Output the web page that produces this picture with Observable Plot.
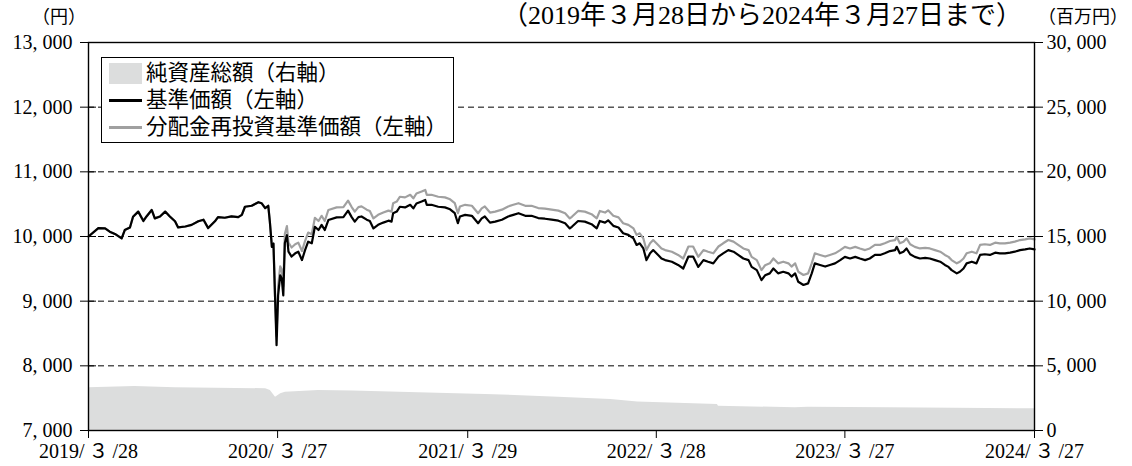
<!DOCTYPE html>
<html><head><meta charset="utf-8">
<script src="https://cdn.jsdelivr.net/npm/d3@7"></script>
<script src="https://cdn.jsdelivr.net/npm/@observablehq/plot@0.6"></script>
<style>
body{margin:0;background:#fff;}
#wrap{position:relative;width:1132px;height:466px;font-family:"Liberation Serif","Noto Sans CJK JP",serif;color:#000;overflow:hidden;}
.hdr{position:absolute;white-space:nowrap;line-height:1;}
#chart{position:absolute;left:0;top:30px;}
#legend{position:absolute;left:101px;top:57px;width:353px;height:86px;border:1.5px solid #000;background:#fff;box-sizing:border-box;font-family:"Liberation Serif","Noto Sans CJK JP",serif;font-size:21.5px;}
.row{position:absolute;left:0;height:26px;width:100%;}
.sw{position:absolute;left:7px;}
.lb{position:absolute;left:44px;top:0;line-height:26px;white-space:nowrap;}
</style>
</head><body>
<div id="wrap">
  <div class="hdr" style="left:32px;top:8px;font-size:18px;">（円）</div>
  <div class="hdr" id="title" style="right:110px;top:3px;font-size:26px;">（2019年３月28日から2024年３月27日まで）</div>
  <div class="hdr" style="left:1038px;top:8px;font-size:18px;">（百万円）</div>
  <div id="chart"></div>
  <div id="legend">
    <div class="row" style="top:2px;"><div class="sw" style="top:3px;width:33px;height:21px;background:#dcdddd;"></div><div class="lb">純資産総額（右軸）</div></div>
    <div class="row" style="top:29px;"><div class="sw" style="top:12px;width:33px;height:3px;background:#000;"></div><div class="lb">基準価額（左軸）</div></div>
    <div class="row" style="top:56px;"><div class="sw" style="top:12px;width:33px;height:3px;background:#a0a0a0;"></div><div class="lb">分配金再投資基準価額（左軸）</div></div>
  </div>
</div>
<script>
// ---- data ----
const dates = [
"2019-03-28","2019-04-16","2019-04-29","2019-05-08","2019-05-18","2019-05-31","2019-06-06","2019-06-16","2019-06-22","2019-07-02",
"2019-07-12","2019-07-18","2019-07-28","2019-08-03","2019-08-13","2019-08-23","2019-09-01","2019-09-11","2019-09-17","2019-10-01",
"2019-10-13","2019-10-26","2019-11-05","2019-11-14","2019-11-27","2019-12-03","2019-12-16","2019-12-29","2020-01-11","2020-01-18",
"2020-01-24","2020-02-06","2020-02-19","2020-02-25","2020-03-03","2020-03-09","2020-03-12","2020-03-16","2020-03-19","2020-03-22",
"2020-03-25","2020-03-28","2020-04-01","2020-04-04","2020-04-07","2020-04-10","2020-04-14","2020-04-17","2020-04-23","2020-04-30",
"2020-05-06","2020-05-13","2020-05-19","2020-05-25","2020-06-01","2020-06-07","2020-06-14","2020-06-20","2020-06-26","2020-07-03",
"2020-07-19","2020-08-01","2020-08-10","2020-08-17","2020-08-23","2020-08-30","2020-09-05","2020-09-15","2020-09-21","2020-09-28",
"2020-10-07","2020-10-17","2020-10-27","2020-11-02","2020-11-05","2020-11-12","2020-11-18","2020-11-28","2020-12-08","2020-12-14",
"2020-12-20","2020-12-30","2021-01-06","2021-01-09","2021-01-18","2021-01-31","2021-02-13","2021-02-23","2021-03-04","2021-03-10",
"2021-03-14","2021-03-24","2021-04-06","2021-04-18","2021-04-25","2021-05-01","2021-05-11","2021-05-21","2021-06-03","2021-06-15",
"2021-06-25","2021-07-05","2021-07-18","2021-07-30","2021-08-12","2021-08-25","2021-09-07","2021-09-20","2021-10-03","2021-10-12",
"2021-10-16","2021-10-28","2021-11-10","2021-11-23","2021-12-03","2021-12-09","2021-12-19","2021-12-25","2022-01-04","2022-01-14",
"2022-01-23","2022-02-02","2022-02-12","2022-02-18","2022-02-24","2022-03-03","2022-03-09","2022-03-16","2022-03-22","2022-04-01",
"2022-04-07","2022-04-14","2022-04-27","2022-05-09","2022-05-19","2022-05-29","2022-06-07","2022-06-17","2022-06-27","2022-07-06",
"2022-07-16","2022-07-26","2022-08-04","2022-08-14","2022-08-24","2022-09-02","2022-09-12","2022-09-22","2022-09-28","2022-10-08",
"2022-10-17","2022-10-24","2022-11-02","2022-11-09","2022-11-18","2022-11-28","2022-12-08","2022-12-14","2022-12-21","2022-12-27",
"2023-01-06","2023-01-15","2023-01-22","2023-01-28","2023-02-07","2023-02-17","2023-02-26","2023-03-08","2023-03-18","2023-03-27",
"2023-04-06","2023-04-16","2023-04-25","2023-05-05","2023-05-14","2023-05-24","2023-06-03","2023-06-12","2023-06-22","2023-07-02",
"2023-07-05","2023-07-11","2023-07-18","2023-07-24","2023-07-31","2023-08-09","2023-08-19","2023-08-29","2023-09-07","2023-09-17",
"2023-09-27","2023-10-06","2023-10-13","2023-10-19","2023-10-29","2023-11-04","2023-11-11","2023-11-17","2023-11-27","2023-12-06",
"2023-12-13","2023-12-22","2024-01-01","2024-01-11","2024-01-20","2024-01-30","2024-02-09","2024-02-18","2024-02-28","2024-03-09",
"2024-03-18","2024-03-27"];
// 基準価額（左軸, 円）
const nav = [
10000,10130,10125,10075,10040,9970,10100,10140,10305,10385,
10240,10310,10410,10280,10310,10385,10310,10235,10140,10155,
10180,10235,10260,10130,10235,10300,10290,10310,10300,10335,
10460,10475,10530,10515,10440,10475,10235,9840,9890,9090,
8320,9090,9400,9350,9090,9900,10020,9765,9690,9740,
9765,9635,9790,9920,9895,10150,10100,10180,10100,10255,
10295,10300,10400,10300,10230,10300,10310,10260,10240,10125,
10180,10215,10245,10230,10360,10385,10460,10450,10490,10435,
10510,10540,10565,10490,10490,10460,10450,10420,10360,10205,
10310,10335,10320,10205,10280,10310,10215,10230,10260,10310,
10335,10360,10320,10320,10285,10275,10260,10245,10205,10125,
10150,10240,10230,10190,10125,10240,10215,10250,10165,10140,
10050,10025,9970,9870,9895,9815,9635,9740,9790,9710,
9660,9635,9610,9560,9505,9690,9690,9530,9635,9610,
9585,9690,9740,9790,9765,9715,9660,9635,9530,9480,
9325,9400,9430,9505,9430,9455,9430,9380,9430,9300,
9250,9275,9430,9585,9560,9535,9560,9585,9635,9685,
9660,9685,9660,9635,9660,9715,9715,9740,9775,9790,
9840,9740,9765,9815,9725,9685,9660,9670,9660,9635,
9610,9560,9530,9480,9430,9455,9505,9585,9610,9585,
9715,9725,9715,9750,9740,9740,9750,9765,9790,9800,
9815,9800];
// 分配金再投資基準価額（左軸, 円）
const navReinvested = [
10000,10130,10125,10075,10040,9970,10100,10140,10305,10385,
10240,10310,10410,10280,10310,10385,10310,10235,10140,10155,
10180,10235,10260,10130,10235,10300,10290,10310,10300,10335,
10460,10475,10530,10515,10440,10475,10235,9840,9890,9090,
8460,9230,9540,9490,9230,10040,10160,9905,9830,9880,
9905,9775,9930,10060,10035,10290,10240,10320,10240,10410,
10450,10455,10555,10455,10385,10455,10465,10415,10395,10280,
10335,10370,10400,10385,10515,10540,10615,10605,10645,10590,
10665,10695,10720,10645,10645,10615,10605,10575,10515,10360,
10465,10490,10475,10360,10435,10465,10370,10385,10415,10465,
10490,10515,10475,10475,10440,10430,10415,10400,10360,10280,
10305,10395,10385,10345,10280,10395,10370,10405,10320,10295,
10205,10180,10125,10025,10050,9970,9790,9895,9945,9865,
9815,9790,9765,9715,9660,9845,9845,9685,9790,9765,
9740,9845,9895,9945,9920,9870,9815,9790,9685,9635,
9480,9555,9585,9660,9585,9610,9585,9535,9585,9455,
9405,9430,9585,9740,9715,9690,9715,9740,9790,9840,
9815,9840,9815,9790,9815,9870,9870,9895,9930,9945,
9995,9895,9920,9970,9880,9840,9815,9825,9815,9790,
9765,9715,9685,9635,9585,9610,9660,9740,9765,9740,
9870,9880,9870,9905,9895,9895,9905,9920,9945,9955,
9970,9955];
// 純資産総額（右軸, 百万円）
const assetDates = ["2019-03-28","2019-06-26","2019-09-11","2020-03-04","2020-03-13","2020-03-23","2020-04-02","2020-04-11","2020-06-14","2020-08-19","2020-12-24","2021-05-02","2021-09-20","2021-12-30","2022-02-20","2022-07-24","2022-07-26","2022-12-21","2023-01-15","2023-06-18","2023-10-25","2024-03-27"];
const assets = [3300,3400,3300,3230,3100,2580,2840,2960,3100,3050,2920,2790,2580,2400,2200,2010,1880,1755,1790,1760,1730,1680];

const leftTicks = [7000,8000,9000,10000,11000,12000,13000];
const gridTicks = [8000,9000,10000,11000,12000];
const rightTicks = [0,5000,10000,15000,20000,25000,30000];
const leftDomain = [7000,13000];
const rightDomain = [0,30000];
const xTickDates = ["2019-03-28","2020-03-27","2021-03-29","2022-03-28","2023-03-27","2024-03-27"];
const xTickLabels = ["2019/\u2009３\u2009/28","2020/\u2009３\u2009/27","2021/\u2009３\u2009/29","2022/\u2009３\u2009/28","2023/\u2009３\u2009/27","2024/\u2009３\u2009/27"];

// ---- build ----
const parse = d3.utcParse("%Y-%m-%d");
const lineRows = dates.map((d,i)=>({date:parse(d), nav:nav[i], re:navReinvested[i]}));
const assetRows = assetDates.map((d,i)=>({date:parse(d), v:assets[i]}));
// secondary (right) axis mapped onto the left scale
const toLeft = d3.scaleLinear().domain(rightDomain).range(leftDomain);
const fromLeft = v => toLeft.invert(v);
const fmt = v => d3.format(",")(Math.round(v)).replace(",", ", ");
const xTicks = xTickDates.map(parse);
const xLabelMap = new Map(xTicks.map((d,i)=>[+d, xTickLabels[i]]));

const chart = Plot.plot({
  width: 1132, height: 436,
  marginLeft: 88, marginRight: 98, marginTop: 12, marginBottom: 36,
  style: {fontFamily: '"Liberation Serif","Noto Sans CJK JP",serif', fontSize: "20px", background: "white", color: "#000", overflow: "visible"},
  x: {type: "utc", domain: [parse(dates[0]), parse(dates[dates.length-1])]},
  y: {domain: leftDomain},
  marks: [
    Plot.areaY(assetRows, {x: "date", y1: leftDomain[0], y2: d => toLeft(d.v), fill: "#dcdddd"}),
    Plot.ruleY(gridTicks, {stroke: "#000", strokeWidth: 1, strokeDasharray: "6,4"}),
    Plot.lineY(lineRows, {x: "date", y: "re", stroke: "#a0a0a0", strokeWidth: 2.2}),
    Plot.lineY(lineRows, {x: "date", y: "nav", stroke: "#000", strokeWidth: 2.2}),
    Plot.frame({stroke: "#000", strokeWidth: 1.4}),
    Plot.axisY(leftTicks, {anchor: "left", tickSize: 8, tickPadding: 8, tickFormat: fmt, label: null}),
    Plot.axisY(leftTicks, {anchor: "left", tickSize: 8, dx: 8, tickFormat: () => "", label: null}),
    Plot.axisY(rightTicks.map(v => toLeft(v)), {anchor: "right", tickSize: 8, tickPadding: 4, tickFormat: v => fmt(fromLeft(v)), label: null}),
    Plot.axisY(rightTicks.map(v => toLeft(v)), {anchor: "right", tickSize: 8, dx: -8, tickFormat: () => "", label: null}),
    Plot.axisX(xTicks, {anchor: "bottom", tickSize: 8, tickPadding: 5, tickFormat: d => xLabelMap.get(+d), label: null})
  ]
});
document.getElementById("chart").appendChild(chart);
</script>
</body></html>
